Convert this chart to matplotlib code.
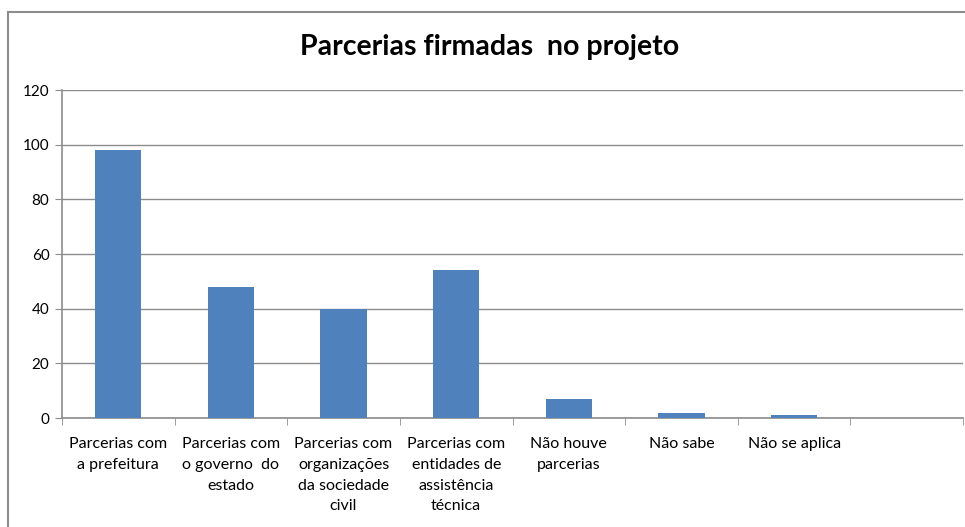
import matplotlib
matplotlib.use("Agg")
import matplotlib.pyplot as plt
from matplotlib.lines import Line2D
import numpy as np

categories = ["Parcerias com\na prefeitura", "Parcerias com\no governo  do\nestado",
              "Parcerias com\norganizações\nda sociedade\ncivil", "Parcerias com\nentidades de\nassistência\ntécnica",
              "Não houve\nparcerias", "Não sabe", "Não se aplica", ""]
values = [98, 48, 40, 54, 7, 2, 1, 0]
yticks = [0, 20, 40, 60, 80, 100, 120]
title = "Parcerias firmadas  no projeto"

plt.rcParams['font.family'] = ['Lato', 'DejaVu Sans']
fig = plt.figure(figsize=(9.65, 5.27), dpi=100)
ax = fig.add_axes([62/965, 1-418/527, (963-62)/965, (418-90)/527])

x = np.arange(len(categories))
ax.bar(x, values, width=0.41, color="#4F81BD", zorder=3)
ax.set_xlim(-0.5, len(categories)-0.5)
ax.set_ylim(0, 120)
ax.set_yticks(yticks)
ax.set_yticklabels([str(v) for v in yticks], fontsize=11)
ax.grid(axis='y', color='#8C8C8C', linewidth=1, zorder=0)
ax.set_xticks(x)
ax.set_xticklabels(categories, fontsize=11.5, linespacing=1.6, va='top')
ax.set_xticks(np.arange(-0.5, len(categories)), minor=True)
ax.tick_params(axis='x', which='major', length=0, pad=14)
ax.tick_params(axis='x', which='minor', length=5, color='#8C8C8C', direction='out')
ax.tick_params(axis='y', length=5, color='#8C8C8C', pad=4)
for s in ['top', 'right']:
    ax.spines[s].set_visible(False)
for s in ['left', 'bottom']:
    ax.spines[s].set_color('#8C8C8C')
    ax.spines[s].set_linewidth(1.2)

fig.text(490/965, 1-47/527, title, ha='center', va='center', fontsize=20.5, fontweight='bold')

fig.add_artist(Line2D([7.5/965, 7.5/965], [0, 1-12/527], color='#8C8C8C', lw=1.5, transform=fig.transFigure))
fig.add_artist(Line2D([7.5/965, 1], [1-12/527, 1-12/527], color='#8C8C8C', lw=1.5, transform=fig.transFigure))

fig.savefig("out.png", dpi=100)
